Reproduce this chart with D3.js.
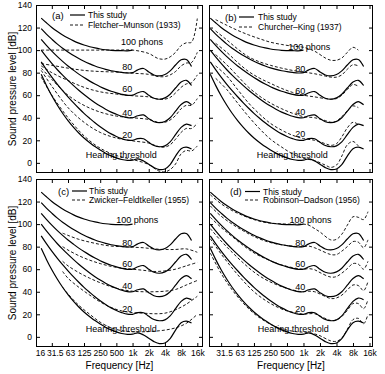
<!DOCTYPE html>
<html>
<head>
<meta charset="utf-8">
<script src="https://cdn.jsdelivr.net/npm/d3@7/dist/d3.min.js"></script>
<style>
  body { margin: 0; background: #fff; }
  svg text { font-family: "Liberation Sans", Arial, Helvetica, sans-serif; fill: #000; }
</style>
</head>
<body>
<svg id="chart" width="385" height="374"></svg>
<script>
// This study (solid lines), SPL in dB
const freqs = [20, 25, 31.5, 40, 50, 63, 80, 100, 125, 160, 200, 250, 315, 400, 500, 630, 800, 1000, 1250, 1600, 2000, 2500, 3150, 4000, 5000, 6300, 8000, 10000, 12500];
const studyTh = [78.5, 68.7, 59.5, 51.1, 44.0, 37.5, 31.5, 26.5, 22.1, 17.9, 14.4, 11.4, 8.6, 6.2, 4.4, 3.0, 2.2, 2.4, 3.5, 1.7, -1.3, -4.2, -6.0, -5.4, -1.5, 6.0, 12.6, 13.9, 12.3];
const study20 = [89.6, 82.7, 76.0, 69.6, 64.0, 58.6, 53.2, 48.4, 43.9, 39.4, 35.5, 32.0, 28.7, 25.7, 23.4, 21.5, 20.1, 20.0, 21.5, 21.4, 18.2, 15.4, 14.3, 15.1, 18.6, 25.0, 31.5, 34.4, 33.0];
const study40 = [99.9, 93.9, 88.2, 82.6, 77.8, 73.1, 68.5, 64.4, 60.6, 56.7, 53.4, 50.4, 47.6, 45.0, 43.1, 41.3, 40.1, 40.0, 41.8, 42.5, 39.2, 36.5, 35.6, 36.7, 40.0, 45.8, 51.8, 54.3, 51.5];
const study60 = [109.5, 104.2, 99.1, 94.2, 90.0, 85.9, 82.1, 78.7, 75.6, 72.5, 69.9, 67.5, 65.4, 63.5, 62.1, 60.8, 59.9, 60.0, 62.2, 63.2, 60.0, 57.3, 56.4, 57.6, 60.9, 66.4, 71.7, 73.2, 68.6];
const study80 = [119.0, 114.2, 109.7, 105.3, 101.7, 98.4, 95.2, 92.5, 90.1, 87.8, 85.9, 84.3, 82.9, 81.7, 80.9, 80.2, 79.7, 80.0, 82.5, 83.7, 80.6, 77.9, 77.1, 78.3, 81.6, 86.8, 91.4, 91.7, 85.4];
const study100 = [128.4, 124.2, 120.1, 116.4, 113.4, 110.7, 108.2, 106.2, 104.5, 103.0, 101.9, 101.0, 100.3, 99.8, 99.6, 99.5, 99.4, 100.0];

// (a) Fletcher-Munson (1933), dashed
const fmFreqs = [20, 31.5, 63, 125, 250, 500, 1000, 2000, 3000, 4000, 5000, 6300, 8000, 10000, 12500, 16000];
const fm0 = [76, 60, 40, 24, 13, 6.5, 3, -1.5, -7, -8, -6, -1, 8, 11, 10.5, 15];
const fm20 = [82, 68, 49, 36, 27, 22, 19.5, 17.5, 14.5, 14, 16, 21, 27, 30.5, 30.5, 35];
const fm40 = [84, 74, 60, 51, 45, 41.5, 40, 38.5, 36, 36, 38, 42, 48, 51, 51, 57];
const fm60 = [86, 80, 73, 67, 63, 61, 59.5, 58.5, 56.5, 56.5, 58, 62, 67, 70, 71, 78];
const fm80 = [88, 86.5, 84, 82, 81, 80.5, 79.5, 78.5, 76.5, 76.5, 78, 81, 86, 88.5, 89, 98];
const fm100 = [100, 100, 100, 100, 100, 100, 100, 97, 92.5, 92, 94, 98, 104, 106.5, 107, 128];

// (b) Churcher-King (1937), dashed
const ckFreqs = [25, 40, 63, 100, 160, 250, 400, 630, 1000, 1600, 2500, 3150, 4000, 5000, 6300, 8000, 10000];
const ck0 = [75, 65, 53, 41, 30, 21, 14, 8, 4, 2, -2, -4, -2, 6, 16, 19, 15];
const ck20 = [86, 77, 65, 53, 43, 35, 29, 24.5, 21.5, 20, 17, 15.5, 17, 23, 31, 36, 34];
const ck40 = [96, 87, 77, 67, 59, 53, 48, 44, 41, 40, 37.5, 36, 37, 41, 46, 50.5, 49];
const ck60 = [106, 98, 89, 81, 75, 70.5, 66, 62.5, 60, 58.5, 57, 56.5, 57, 60, 65, 69.5, 68];
const ck80 = [117, 109, 101, 94, 89.5, 86.5, 84, 82, 80.5, 79, 77, 76, 76, 78, 83, 87, 86];
const ck100 = [127, 122, 117.5, 113.5, 110, 107, 105, 103.5, 102.5, 99, 93, 91, 91, 93, 98, 102.5, 100];

// (c) Zwicker-Feldtkeller (1955), dashed
const zfFreqs = [50, 63, 100, 160, 250, 400, 630, 1000, 1600, 2500, 4000, 6300, 10000, 16000];
const zf0 = [44, 38, 28, 20, 13, 8, 5.5, 4.5, 4.5, 5, 6, 8, 12, 20];
const zf20 = [58, 52, 44, 37, 31, 26, 23, 21.5, 21, 20.5, 21, 24, 29, 36];
const zf40 = [67, 63, 57, 52, 48, 44.5, 42, 40.5, 40, 40, 40.5, 42, 46, 50];
const zf60 = [80, 77, 72, 68, 65, 62.5, 61, 60, 59, 58, 58.5, 60, 63, 66];
const zf80 = [92, 90, 86.5, 84, 82, 80.5, 80, 79.5, 79, 78, 77.5, 77.5, 78, 75];

// (d) Robinson-Dadson (1956), dashed
const rdFreqs = [20, 31.5, 50, 80, 125, 200, 315, 500, 800, 1000, 1250, 1600, 2000, 3150, 4000, 5000, 6300, 8000, 10000, 12500, 15000];
const rd0 = [74.3, 56.3, 41.7, 29.8, 20.7, 13.8, 8.9, 6, 4.4, 4.2, 3.7, 2.6, 1, -3.6, -3.9, -1.1, 6.6, 15.3, 16.4, 11.6, 20];
const rd20 = [87, 73.5, 61, 49.5, 40, 32.5, 27, 23, 21, 20, 20.5, 20.5, 18.5, 14.5, 15, 18, 23.5, 29.5, 29.5, 25, 33];
const rd40 = [96, 85, 75, 65.5, 57.5, 51, 46.5, 43, 40.5, 40, 40.5, 40, 38, 34, 34.5, 37, 41.5, 46, 45.5, 41, 49];
const rd60 = [106, 97, 89, 81, 74.5, 69.5, 65.5, 62.5, 60.5, 60, 60.5, 59.5, 57, 53, 53.5, 56.5, 60.5, 65, 64.5, 60, 67];
const rd80 = [116, 107, 100, 94, 89, 85, 82.5, 81, 80, 80, 80.5, 79, 77, 73, 73, 76, 80, 84.5, 84, 79, 86];
const rd100 = [126, 118, 112, 107.5, 104, 101.5, 100.5, 100, 100, 100, 99, 96, 93, 86, 86.5, 91, 99, 106.5, 106, 104, 111];

// axes
const xTickVals = [16, 31.5, 63, 125, 250, 500, 1000, 2000, 4000, 8000, 16000];
const xTickLabels = ["16", "31.5", "63", "125", "250", "500", "1k", "2k", "4k", "8k", "16k"];
const yTickVals = [0, 20, 40, 60, 80, 100, 120, 140];
const levelNames = ["Hearing threshold", "20", "40", "60", "80", "100 phons"];
const studyCurves = [studyTh, study20, study40, study60, study80, study100];

const panels = [
  { tag: "(a)", ref: "Fletcher\u2013Munson (1933)", col: 0, row: 0,
    refFreqs: fmFreqs, refCurves: [fm0, fm20, fm40, fm60, fm80, fm100],
    labelAt: [[615, 7], [795, 25], [795, 44.5], [795, 65.5], [795, 85], [1500, 107]],
    legend: { tag: 16, line: 34, text: 52, r1: 10, r2: 20 } },
  { tag: "(b)", ref: "Churcher\u2013King (1937)", col: 1, row: 0,
    refFreqs: ckFreqs, refCurves: [ck0, ck20, ck40, ck60, ck80, ck100],
    labelAt: [[626, 7], [877, 25.6], [877, 45], [877, 64], [877, 83], [1280, 103]],
    legend: { tag: 16, line: 30, text: 49, r1: 12, r2: 22 } },
  { tag: "(c)", ref: "Zwicker\u2013Feldtkeller (1955)", col: 0, row: 1,
    refFreqs: zfFreqs, refCurves: [zf0, zf20, zf40, zf60, zf80],
    labelAt: [[615, 7], [795, 25], [795, 45], [795, 64.4], [795, 83.6], [1220, 103.6]],
    legend: { tag: 22, line: 36, text: 53, r1: 12, r2: 21 } },
  { tag: "(d)", ref: "Robinson\u2013Dadson (1956)", col: 1, row: 1,
    refFreqs: rdFreqs, refCurves: [rd0, rd20, rd40, rd60, rd80, rd100],
    labelAt: [[653, 7], [877, 25], [877, 44.4], [877, 64.4], [877, 83.6], [1340, 103.6]],
    legend: { tag: 21, line: 36, text: 54, r1: 12.5, r2: 21 } }
];

const cols = [{ left: 36, right: 203, fLo: 36, fHi: 197.3 }, { left: 209, right: 373, fLo: 205, fHi: 369.5 }];
const rows = [{ top: 5, bottom: 173 }, { top: 179, bottom: 347 }];
// small shifts of the first bottom labels, as in the original
const labelShift = { 16: 4, 31.5: 3, 63: 2 };

const svg = d3.select("#chart");
const fmt = v => xTickLabels[xTickVals.indexOf(v)];

panels.forEach((p, i) => {
  const c = cols[p.col], r = rows[p.row];
  const x = d3.scaleLog().base(2).domain([16, 16000]).range([c.fLo, c.fHi]);
  const y = d3.scaleLinear().domain([-9, 140]).range([r.bottom, r.top]);
  const g = svg.append("g");

  g.append("clipPath").attr("id", "clip" + i).append("rect")
    .attr("x", c.left).attr("y", r.top)
    .attr("width", c.right - c.left).attr("height", r.bottom - r.top);

  const line = d3.line()
    .x(d => x(d[0])).y(d => y(d[1]))
    .curve(d3.curveCatmullRom.alpha(0.5));

  const plot = g.append("g").attr("clip-path", `url(#clip${i})`);

  // comparison study, dashed
  plot.selectAll(".ref").data(p.refCurves).enter()
    .append("path")
    .attr("d", v => line(d3.zip(p.refFreqs, v)))
    .attr("fill", "none").attr("stroke", "#000")
    .attr("stroke-width", 0.9).attr("stroke-dasharray", "3,2");

  // this study, solid
  plot.selectAll(".study").data(studyCurves).enter()
    .append("path")
    .attr("d", v => line(d3.zip(freqs, v)))
    .attr("fill", "none").attr("stroke", "#000")
    .attr("stroke-width", 1.2);

  // contour labels
  g.selectAll(".lvl").data(p.labelAt).enter()
    .append("text")
    .attr("x", d => x(d[0])).attr("y", d => y(d[1]))
    .attr("text-anchor", "middle").attr("dominant-baseline", "central")
    .attr("font-size", 9)
    .text((d, k) => levelNames[k]);

  // axes, ticks inward
  const xt = p.col === 0 ? xTickVals : xTickVals.slice(1);
  const style = a => {
    a.select(".domain").remove();
    a.attr("font-size", 8.5).attr("font-family", null);
  };
  const bottom = g.append("g").attr("transform", `translate(0,${r.bottom})`)
    .call(d3.axisBottom(x).tickValues(xt).tickSize(-4).tickPadding(3)
      .tickFormat(p.row === 1 ? fmt : () => ""))
    .call(style);
  bottom.selectAll(".tick text").attr("dx", d => labelShift[d] || 0);
  g.append("g").attr("transform", `translate(0,${r.top})`)
    .call(d3.axisTop(x).tickValues(xt).tickSize(-4).tickFormat(() => ""))
    .call(style);
  g.append("g").attr("transform", `translate(${c.left},0)`)
    .call(d3.axisLeft(y).tickValues(yTickVals).tickSize(-4).tickPadding(4)
      .tickFormat(p.col === 0 ? d3.format("d") : () => ""))
    .call(style);
  g.append("g").attr("transform", `translate(${c.right},0)`)
    .call(d3.axisRight(y).tickValues(yTickVals).tickSize(-4).tickFormat(() => ""))
    .call(style);

  g.append("rect")
    .attr("x", c.left + 0.5).attr("y", r.top + 0.5)
    .attr("width", c.right - c.left - 1).attr("height", r.bottom - r.top - 1)
    .attr("fill", "none").attr("stroke", "#000").attr("stroke-width", 1)
    .attr("shape-rendering", "crispEdges");

  // legend
  const L = p.legend;
  g.append("text").attr("x", c.left + L.tag).attr("y", r.top + L.r1)
    .attr("dominant-baseline", "central").attr("font-size", 9.5).text(p.tag);
  g.append("line").attr("x1", c.left + L.line).attr("x2", c.left + L.line + 15)
    .attr("y1", r.top + L.r1).attr("y2", r.top + L.r1)
    .attr("stroke", "#000").attr("stroke-width", 1.2);
  g.append("text").attr("x", c.left + L.text).attr("y", r.top + L.r1)
    .attr("dominant-baseline", "central").attr("font-size", 8.5).text("This study");
  g.append("line").attr("x1", c.left + L.line).attr("x2", c.left + L.line + 15)
    .attr("y1", r.top + L.r2).attr("y2", r.top + L.r2)
    .attr("stroke", "#000").attr("stroke-width", 0.9).attr("stroke-dasharray", "3,2");
  g.append("text").attr("x", c.left + L.text).attr("y", r.top + L.r2)
    .attr("dominant-baseline", "central").attr("font-size", 8.5).text(p.ref);

  if (p.col === 0) {
    g.append("text")
      .attr("transform", `translate(12,${(r.top + r.bottom) / 2}) rotate(-90)`)
      .attr("text-anchor", "middle").attr("dominant-baseline", "central")
      .attr("font-size", 10).text("Sound pressure level [dB]");
  }
  if (p.row === 1) {
    g.append("text")
      .attr("x", (c.left + c.right) / 2).attr("y", 365)
      .attr("text-anchor", "middle").attr("dominant-baseline", "central")
      .attr("font-size", 10).text("Frequency [Hz]");
  }
});
</script>
</body>
</html>
